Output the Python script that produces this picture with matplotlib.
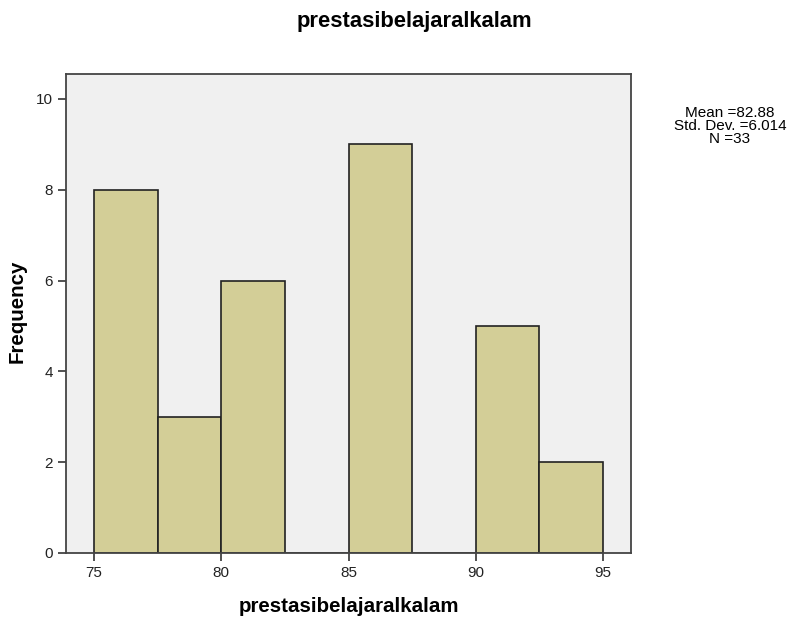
import numpy as np
import matplotlib.pyplot as plt

plt.rcParams['font.family'] = ['Liberation Sans', 'DejaVu Sans']

# Histogram bins (width 2.5) and counts
bin_edges = [75, 77.5, 80, 82.5, 85, 87.5, 90, 92.5, 95]
counts = [8, 3, 6, 0, 9, 0, 5, 2]
x_ticks = [75, 80, 85, 90, 95]
y_ticks = [0, 2, 4, 6, 8, 10]
stats_text = "Mean =82.88\nStd. Dev. =6.014\nN =33"

fig = plt.figure(figsize=(7.91, 6.19), dpi=100)
ax = fig.add_axes([66 / 791, 1 - 553 / 619, (631 - 66) / 791, (553 - 74) / 619])
ax.set_facecolor("#F0F0F0")

lefts = np.array(bin_edges[:-1])
widths = np.diff(bin_edges)
ax.bar(lefts, counts, width=widths, align="edge", color="#D3CE97",
       edgecolor="#222222", linewidth=1.2)

ax.set_xlim(73.9, 96.1)
ax.set_ylim(0, 10.55)
ax.set_xticks(x_ticks)
ax.set_yticks(y_ticks)
ax.tick_params(direction="out", length=6, width=1.2, colors="#333333",
               labelsize=11, labelcolor="#222222")
for s in ax.spines.values():
    s.set_color("#444444")
    s.set_linewidth(1.3)

ax.set_xlabel("prestasibelajaralkalam", fontsize=14.8, fontweight="bold", labelpad=12)
ax.set_ylabel("Frequency", fontsize=14.8, fontweight="bold")
ax.yaxis.set_label_coords(-0.069, 0.505)
fig.text(414 / 791, 1 - 22 / 619, "prestasibelajaralkalam", ha="center", va="center",
         fontsize=15.8, fontweight="bold")
fig.text(730 / 791, 1 - 126 / 619, stats_text, ha="center", va="center",
         fontsize=11, linespacing=0.95)

plt.savefig("out.png", dpi=100)
